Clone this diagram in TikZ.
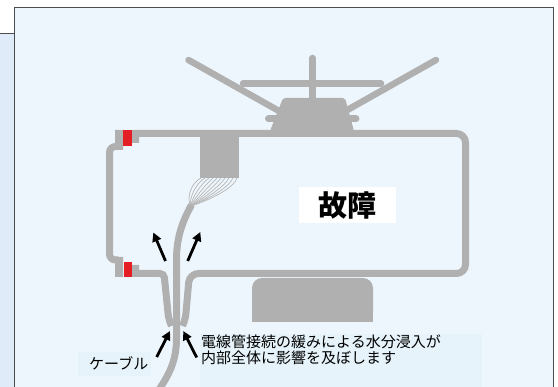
\documentclass[tikz,border=0pt]{standalone}
\usepackage{fontspec}
\newfontfamily\jpfont{Noto Sans CJK JP}
\usetikzlibrary{arrows.meta}
\definecolor{mainbg}{HTML}{EEF6FD}
\definecolor{panelbg}{HTML}{DFEBF8}
\definecolor{notebg}{HTML}{E6F3FA}
\definecolor{part}{HTML}{B0B0B0}
\definecolor{wirecol}{HTML}{B6B6B6}
\definecolor{seal}{HTML}{E31E24}
\begin{document}
\begin{tikzpicture}[x=1pt,y=-1pt,
    wall/.style={draw=part,line width=7pt,rounded corners=6pt},
    bar/.style={draw=part,line width=6.5pt,line cap=round},
    cable/.style={draw=part,line width=7pt},
    wire/.style={draw=wirecol,line width=0.7pt},
    push/.style={draw=black,line width=2.8pt,-{Triangle[length=9pt,width=9pt]}},
    note/.style={font=\jpfont\fontsize{15}{15.5}\selectfont,inner sep=0pt,align=left}]
  \useasboundingbox (0,0) rectangle (558,387);
  \fill[panelbg] (0,33) rectangle (14,390);
  \draw[black!70,line width=0.8pt] (0,33) -- (14,33);
  \draw[black!70,line width=0.8pt,fill=mainbg] (14,7) rectangle (553.5,395);
  % antenna on top
  \draw[bar] (188.5,60) -- (295,120);
  \draw[bar] (436,60) -- (329.6,120);
  \draw[bar] (243,83.5) -- (381,83.5);
  \draw[bar] (312.7,58) -- (312.7,100);
  \draw[bar,line width=7pt] (268.5,119) -- (356,119);
  \fill[part,rounded corners=2pt] (270,131) -- (283,98) -- (345,98) -- (354,131) -- cycle;
  % housing
  \draw[wall] (118,146.5) -- (109.5,146.5) -- (109.5,260) -- (118,260);
  \draw[wall,rounded corners=9pt] (139,133.5) -- (465.5,133.5) -- (465.5,273.5) -- (189.5,273.5)
    [rounded corners=4pt] -- (185.5,318) -- (182.5,326);
  \draw[wall,rounded corners=4pt] (139,273.5) -- (164,273.5) -- (168.5,318) -- (171.5,326);
  % flanges and seals
  \fill[part] (115,130) rectangle (123,150) (132,130) rectangle (139,143);
  \fill[seal] (123,130) rectangle (132,146);
  \fill[part] (115,257) rectangle (123,277) (132,265) rectangle (139,277);
  \fill[seal] (123.5,262) rectangle (132,277);
  % terminal block and wires
  \fill[part] (200,137) rectangle (239,178);
  \foreach \i in {0,...,9} {
    \pgfmathsetmacro\t{\i/9}
    \draw[wire] (201+36*\t,178) .. controls (191+43*\t,183+5*\t) and (186+24*\t,198+2*\t) .. (191,206);
  }
  \draw[cable] (191.5,205) .. controls (182,222) and (176.5,238) .. (176.5,260)
    -- (176.5,338) .. controls (176.5,360) and (170,374) .. (156,394);
  % stand
  \fill[part,rounded corners=10pt] (252,278) rectangle (373,322);
  \fill[part] (252,300) rectangle (373,322);
  % arrows
  \draw[push] (165.5,261) -- (153.3,232.5);
  \draw[push] (187.7,261) -- (200.3,232);
  \draw[push] (156.7,357) -- (170,331);
  \draw[push] (196.7,357.5) -- (183.3,331);
  % labels
  \node[fill=white,minimum width=97pt,minimum height=36pt,inner sep=0pt,
    font=\jpfont\bfseries\fontsize{29}{30}\selectfont] (fault) at (347.5,205) {故障};
  \fill[notebg] (78,351.7) rectangle (151,375.7);
  \node[note,anchor=west] (cablename) at (89,363) {ケーブル};
  \fill[notebg] (200,334) rectangle (482,387);
  \node[note,anchor=north west] (cause) at (201,335) {電線管接続の緩みによる水分浸入が\\内部全体に影響を及ぼします};
\end{tikzpicture}
\end{document}
